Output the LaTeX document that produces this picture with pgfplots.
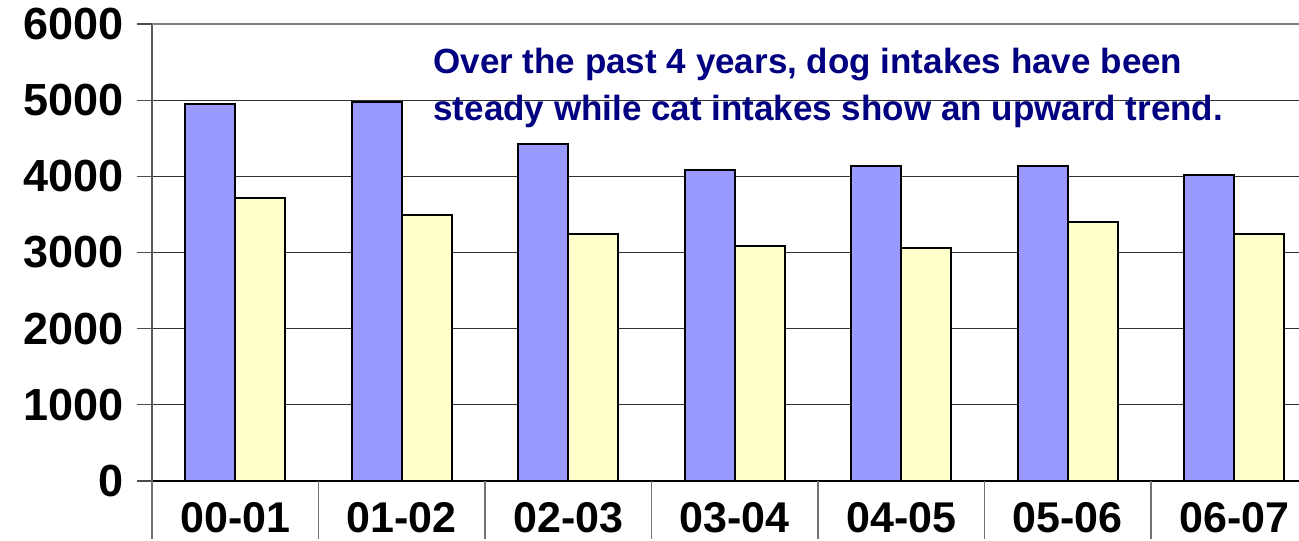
\documentclass[border=0pt]{standalone}
\usepackage{pgfplots}
\pgfplotsset{compat=1.18}
\usepackage{fontspec}
\setmainfont{Liberation Sans}
\definecolor{dogc}{HTML}{9999FF}
\definecolor{catc}{HTML}{FFFFCC}
\definecolor{navytxt}{HTML}{000080}
\begin{document}
\begin{tikzpicture}
\useasboundingbox (-76pt,-29.5pt) rectangle (573.5pt,240.5pt);
\begin{axis}[
  at={(0,0)}, anchor=south west,
  scale only axis, width=573.5pt, height=228.5pt,
  xmin=-0.5, xmax=6.389, ymin=0, ymax=6000,
  axis lines=left, axis line style={-},
  x axis line style={black, line width=0.8pt},
  y axis line style={black!65, line width=0.8pt},
  clip=false,
  tick align=outside, major tick length=7.5pt,
  ytick={0,1000,...,5000},
  extra y ticks={6000},
  extra y tick style={grid style={black!50, line width=1.1pt}},
  ymajorgrids, grid style={black!80, line width=0.5pt},
  ytick style={black!70, line width=0.6pt},
  xtick={0,...,6},
  xticklabels={00-01,01-02,02-03,03-04,04-05,05-06,06-07},
  xtick style={draw=none},
  extra x ticks={-0.5,0.5,...,6.5},
  extra x tick labels={},
  extra x tick style={major tick length=29pt, xtick style={draw=black!55, line width=0.6pt}},
  /pgf/number format/assume math mode=true,
  scaled y ticks=false,
  yticklabel style={font=\fontsize{22.5}{26}\bfseries\selectfont, xshift=-3pt},
  xticklabel style={font=\fontsize{21.5}{26}\bfseries\selectfont, yshift=0.5pt},
  /pgf/number format/1000 sep={},
]
\addplot[ybar, bar width=0.3, bar shift=-0.15, fill=dogc, draw=black, line width=1pt]
  coordinates {(0,4950) (1,4980) (2,4418) (3,4083) (4,4137) (5,4137) (6,4014)};
\addplot[ybar, bar width=0.3, bar shift=0.15, fill=catc, draw=black, line width=1pt]
  coordinates {(0,3711) (1,3489) (2,3240) (3,3090) (4,3058) (5,3394) (6,3240)};
\node[anchor=north west, align=left, inner sep=0pt, text=navytxt,
      font=\fontsize{17.5}{23.3}\bfseries\selectfont]
  at (axis cs:1.188,5685) {Over the past 4 years, dog intakes have been\\steady while cat intakes show an upward trend.};
\end{axis}
\end{tikzpicture}
\end{document}
